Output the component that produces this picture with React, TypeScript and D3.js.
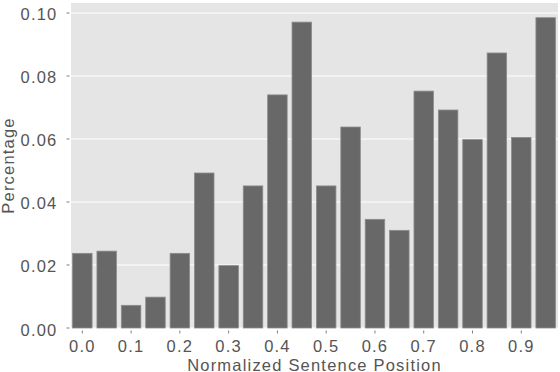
import React from "react";
import * as d3 from "d3";

const positions = [0.0, 0.05, 0.1, 0.15, 0.2, 0.25, 0.3, 0.35, 0.4, 0.45, 0.5, 0.55, 0.6, 0.65, 0.7, 0.75, 0.8, 0.85, 0.9, 0.95];
const percentages = [0.0237, 0.0244, 0.0072, 0.0098, 0.0237, 0.0492, 0.0198, 0.0451, 0.074, 0.0971, 0.0451, 0.0638, 0.0345, 0.031, 0.0752, 0.0692, 0.0598, 0.0873, 0.0605, 0.0985];
const xTicks = [0.0, 0.1, 0.2, 0.3, 0.4, 0.5, 0.6, 0.7, 0.8, 0.9];
const yTicks = [0.0, 0.02, 0.04, 0.06, 0.08, 0.1];
const xTitle = "Normalized Sentence Position";
const yTitle = "Percentage";

const W = 560;
const H = 372;
const left = 71;
const right = 558;
const top = 3;
const bottom = 328;

export default function App() {
  const x = d3.scaleLinear().domain([-0.0232, 0.9753]).range([left, right]);
  const y = d3.scaleLinear().domain([0, 0.10317]).range([bottom, top]);
  const barW = 0.04;
  const font = "'Liberation Sans', Arial, sans-serif";
  const textColor = "#555555";
  return (
    <svg width={W} height={H} style={{ position: "absolute", left: 0, top: 0 }} fontFamily={font}>
      <rect x={left} y={top} width={right - left} height={bottom - top} fill="#e5e5e5" />
      {yTicks.map((t) => (
        <line key={"g" + t} x1={left} x2={right} y1={y(t)} y2={y(t)} stroke="#ffffff" strokeWidth={1.2} />
      ))}
      {positions.map((p, i) => (
        <rect
          key={"b" + i}
          x={x(p - barW / 2)}
          y={y(percentages[i])}
          width={x(p + barW / 2) - x(p - barW / 2)}
          height={y(0) - y(percentages[i])}
          fill="#686868"
          stroke="#8c8c8c"
          strokeWidth={0.8}
        />
      ))}
      {yTicks.map((t) => (
        <g key={"y" + t}>
          <line x1={66.5} x2={69.5} y1={y(t)} y2={y(t)} stroke="#7f7f7f" strokeWidth={1} />
          <text x={57.5} y={y(t) + 7.5} textAnchor="end" fontSize={16.5} fill={textColor} letterSpacing={1.2}>
            {t.toFixed(2)}
          </text>
        </g>
      ))}
      {xTicks.map((t) => (
        <g key={"x" + t}>
          <line x1={x(t)} x2={x(t)} y1={330.5} y2={333.5} stroke="#7f7f7f" strokeWidth={1} />
          <text x={x(t)} y={352} textAnchor="middle" fontSize={16.5} fill={textColor} letterSpacing={1.2}>
            {t.toFixed(1)}
          </text>
        </g>
      ))}
      <text x={(left + right) / 2} y={370.5} textAnchor="middle" fontSize={16.5} fill={textColor} letterSpacing={1.2}>
        {xTitle}
      </text>
      <text
        transform={`translate(13.5,${(top + bottom) / 2}) rotate(-90)`}
        textAnchor="middle"
        fontSize={16.5}
        fill={textColor}
        letterSpacing={1.2}
      >
        {yTitle}
      </text>
    </svg>
  );
}
